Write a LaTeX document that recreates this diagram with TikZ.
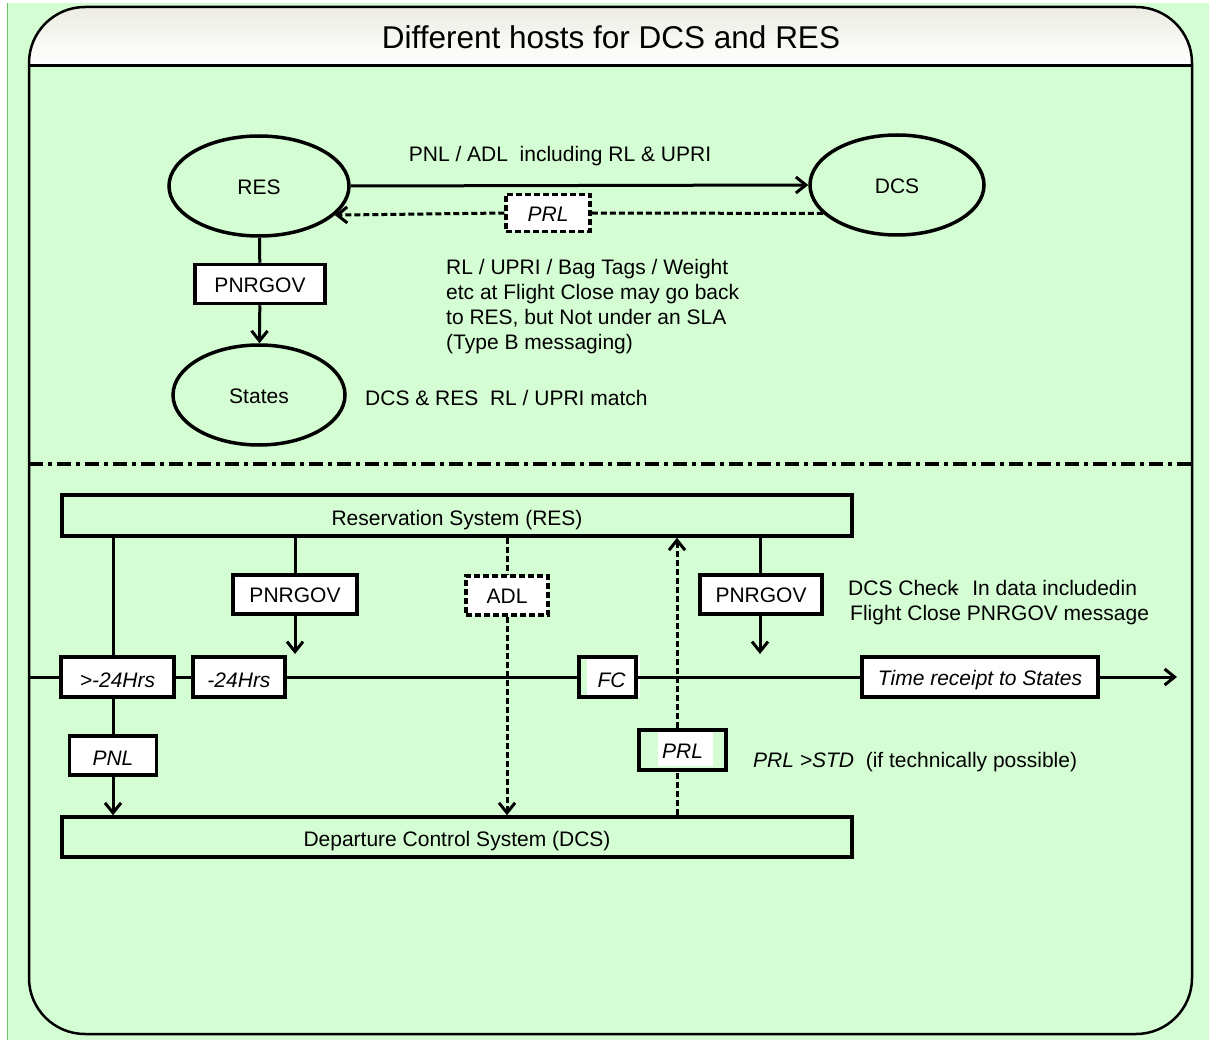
\documentclass[tikz,border=0pt]{standalone}
\usepackage{fontspec}
\setmainfont{Liberation Sans}
\usetikzlibrary{shapes.geometric,arrows.meta,calc}
\definecolor{bggreen}{HTML}{D4FDD4}
\definecolor{edgegreen}{HTML}{6CC06C}
\definecolor{headtop}{HTML}{ECECE4}
\tikzset{
  txt/.style={font=\fontsize{21}{25}\selectfont, inner sep=0pt},
  it/.style={font=\fontsize{21}{25}\selectfont\itshape},
  ell/.style={ellipse, draw, line width=3.5pt, txt},
  box/.style={rectangle, draw, line width=3.5pt, fill=white, txt},
  dbox/.style={box, dash pattern=on 6pt off 3pt},
  bar/.style={rectangle, draw, line width=3.5pt, txt},
  conn/.style={line width=3pt},
  arr/.style={conn, -{Straight Barb[length=10pt,width=16pt]}},
  dconn/.style={conn, dash pattern=on 6pt off 3pt},
  darr/.style={arr, dash pattern=on 6pt off 3pt},
  sep/.style={line width=3.5pt, dash pattern=on 14pt off 5pt on 4pt off 5pt},
}
\newcommand{\lowby}[2]{\raisebox{-#1}[\height][\depth]{#2}}
\begin{document}
\begin{tikzpicture}[x=1pt,y=-1pt]
\useasboundingbox (0,0) rectangle (1209,1040);
\fill[white] (0,0) rectangle (1209,1040);
\fill[bggreen] (7,3) rectangle (1209,1040);
\draw[edgegreen, line width=1pt] (7.5,3) -- (7.5,1040);
% frame
\begin{scope}
  \clip[rounded corners=56pt] (29,7) rectangle (1192,1034);
  \shade[top color=headtop, bottom color=white] (29,7) rectangle (1192,66);
\end{scope}
\draw[line width=2.5pt, rounded corners=56pt] (29,7) rectangle (1192,1034);
\draw[line width=3pt] (29,66) -- (1192,66);
\node[inner sep=0pt, font=\fontsize{31.5}{36}\selectfont] (title) at (611,37) {Different hosts for DCS and RES};

% top section
\node[ell, minimum width=180pt, minimum height=100pt] (res) at (259,186) {\lowby{1pt}{RES}};
\node[ell, minimum width=174pt, minimum height=100pt] (dcs) at (897,185) {\lowby{1pt}{DCS}};
\node[ell, minimum width=172pt, minimum height=100pt] (states) at (259,395) {\lowby{1pt}{States}};
\node[box, minimum width=130pt, minimum height=39pt] (pnr1) at (260,284) {\lowby{1pt}{PNRGOV}};
\node[dbox, it, minimum width=84pt, minimum height=37pt] (prl1) at (548,213) {\lowby{1pt}{PRL}};

\draw[arr] (res.east) -- (dcs.west);
\draw[dconn] (dcs.201) -- (prl1.east);
\draw[darr] (prl1.west) -- (res.339);
\draw[conn] (res) -- (pnr1);
\draw[arr] (pnr1) -- (states);

\node[txt] (lbl1) at (560,156) {PNL / ADL\ \ including RL \& UPRI};
\node[txt, align=left, anchor=west] (note1) at (446,307) {RL / UPRI / Bag Tags / Weight\\etc at Flight Close may go back\\to RES, but Not under an SLA\\(Type B messaging)};
\node[txt, anchor=west] (note2) at (365,398) {DCS \& RES\ \ RL / UPRI match};

% separator
\draw[sep] (29,464) -- (1192,464);

% bottom section
\node[bar, minimum width=790pt, minimum height=41pt] (resbar) at (457,515.5) {\lowby{5pt}{Reservation System (RES)}};
\node[bar, minimum width=790pt, minimum height=40pt] (dcsbar) at (457,837) {\lowby{4pt}{Departure Control System (DCS)}};

\node[box, it, minimum width=113pt, minimum height=40pt] (gt24) at (117.5,677) {\lowby{3pt}{>-24Hrs}};
\node[box, it, minimum width=92pt, minimum height=40pt] (m24) at (239,677) {\lowby{3pt}{-24Hrs}};
\fill[white] (587,657) rectangle (640,697);
\node[box, fill=none, it, minimum width=57pt, minimum height=40pt] (fc) at (607.5,677) {\lowby{3pt}{\hspace{8pt}FC}};
\node[box, it, minimum width=236pt, minimum height=40pt] (tr) at (980,677) {\lowby{3pt}{Time receipt to States}};
\coordinate (tl0) at (30,677);
\coordinate (tlend) at (1177,677);
\draw[conn] (tl0) -- (gt24);
\draw[conn] (gt24) -- (m24);
\draw[conn] (m24) -- (fc);
\draw[conn] (fc) -- (tr);
\draw[arr] (tr) -- (tlend);

\node[box, it, minimum width=87pt, minimum height=39pt] (pnl) at (113,755.5) {\lowby{3pt}{PNL}};
\draw[conn] (resbar.south -| pnl) -- (gt24.north -| pnl);
\draw[conn] (gt24.south -| pnl) -- (pnl);
\draw[arr] (pnl) -- (dcsbar.north -| pnl);

\node[box, minimum width=124pt, minimum height=39pt] (pnr2) at (295,594.5) {\lowby{1pt}{PNRGOV}};
\coordinate (p2end) at (295,654);
\draw[conn] (resbar.south -| pnr2) -- (pnr2);
\draw[arr] (pnr2) -- (p2end);

\node[dbox, minimum width=82pt, minimum height=39pt] (adl) at (507,595.5) {\lowby{1pt}{ADL}};
\draw[dconn] (resbar.south -| adl) -- (adl);
\draw[darr] (adl) -- (dcsbar.north -| adl);

\node[box, minimum width=122pt, minimum height=39pt] (pnr3) at (761,594.5) {\lowby{1pt}{PNRGOV}};
\coordinate (p3end) at (760,654);
\draw[conn] (resbar.south -| p3end) -- (pnr3.north -| p3end);
\draw[arr] (pnr3.south -| p3end) -- (p3end);

\fill[white] (658,731) rectangle (713,766);
\node[box, fill=none, it, minimum width=87pt, minimum height=40pt] (prl2) at (682.5,750) {\lowby{1pt}{PRL}};
\coordinate (prlx) at (677,750);
\draw[dconn] (dcsbar.north -| prlx) -- (prl2.south -| prlx);
\draw[darr] (prl2.north -| prlx) -- (resbar.south -| prlx);

\node[txt, anchor=west] (chk1) at (848,588) {DCS Chec\rlap{k}\kern5pt-\hspace{13pt}In data includedin};
\node[txt, anchor=west] (chk2) at (850,615) {Flight Close PNRGOV message};
\node[txt, anchor=west] (prlnote) at (753,762) {{\itshape PRL >STD}\ \ (if technically possible)};
\end{tikzpicture}
\end{document}
